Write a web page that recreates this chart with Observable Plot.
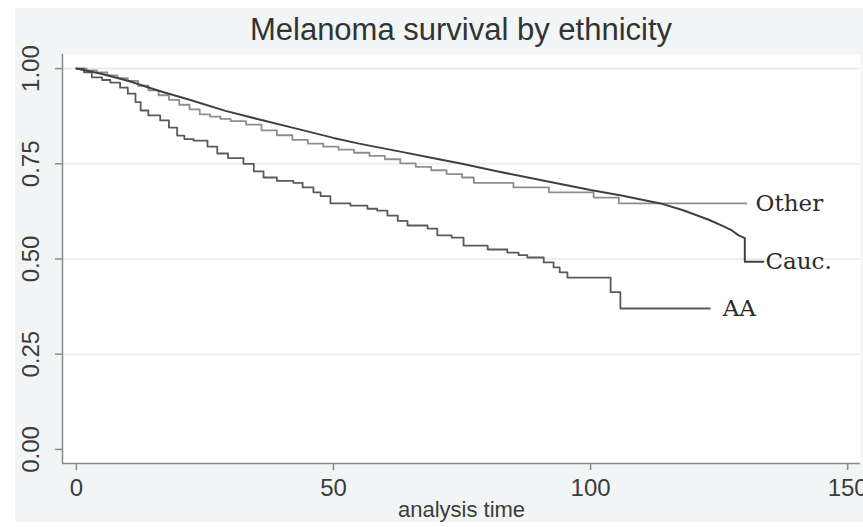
<!DOCTYPE html>
<html>
<head>
<meta charset="utf-8">
<script src="https://cdn.jsdelivr.net/npm/d3@7"></script>
<script src="https://cdn.jsdelivr.net/npm/@observablehq/plot@0.6"></script>
<style>
  html, body { margin: 0; padding: 0; background: #ffffff; }
  #wrap { position: relative; width: 863px; height: 527px; background: #ffffff; overflow: hidden; }
  #panel { position: absolute; left: 15px; top: 8px; width: 848px; height: 514px; background: #f2f5f5; }
  #title { position: absolute; left: 62px; width: 798px; top: 14px; text-align: center;
           font-family: "Liberation Sans", Arial, sans-serif; font-size: 31px; line-height: 31px; color: #333333; }
  #chart { position: absolute; left: 0; top: 50px; }
</style>
</head>
<body>
<div id="wrap">
  <div id="panel"></div>
  <div id="title">Melanoma survival by ethnicity</div>
  <div id="chart"></div>
</div>
<script>
// ---- data ----
const caucTime = [0, 5, 10, 16, 22, 29, 36, 42, 50, 55, 63, 70, 75, 82, 90, 100, 106, 113.6, 118, 123, 126, 127.5, 128.8, 130, 130, 133.6];
const caucSurv = [1.0, 0.986, 0.968, 0.942, 0.918, 0.889, 0.865, 0.845, 0.818, 0.803, 0.782, 0.763, 0.75, 0.73, 0.708, 0.681, 0.667, 0.646, 0.628, 0.603, 0.585, 0.575, 0.562, 0.555, 0.493, 0.493];

const otherTime = [0, 2, 4, 6, 8, 10, 12, 14, 16, 18, 20, 22, 24, 26, 28, 30, 33, 36, 39, 42, 45, 48, 51, 54, 57, 60, 63, 66, 69, 72, 75, 77.3, 85, 91.9, 100.6, 105.5, 130.3];
const otherSurv = [1.0, 0.995, 0.99, 0.982, 0.975, 0.968, 0.955, 0.943, 0.93, 0.918, 0.905, 0.893, 0.88, 0.874, 0.868, 0.862, 0.853, 0.838, 0.825, 0.813, 0.803, 0.795, 0.787, 0.779, 0.771, 0.762, 0.751, 0.742, 0.733, 0.723, 0.714, 0.70, 0.688, 0.675, 0.661, 0.646, 0.646];

const aaTime = [0, 1.5, 3, 5, 6.6, 8.5, 10, 11.5, 12.5, 14, 16.3, 18, 19.6, 21, 22.8, 25.5, 27.4, 29.5, 32.5, 34.5, 36.4, 39, 42.2, 44, 46.1, 47.5, 49.4, 53.3, 56.6, 58.5, 60.5, 62.5, 64.4, 68.3, 70.2, 73, 75.3, 80, 83.8, 86, 87.7, 90.9, 92.8, 94, 95.5, 103.9, 105.8, 123.2];
const aaSurv = [1.0, 0.99, 0.977, 0.97, 0.963, 0.95, 0.934, 0.912, 0.89, 0.877, 0.864, 0.845, 0.824, 0.815, 0.811, 0.795, 0.777, 0.765, 0.75, 0.73, 0.714, 0.705, 0.70, 0.688, 0.675, 0.665, 0.646, 0.64, 0.632, 0.627, 0.614, 0.60, 0.588, 0.58, 0.562, 0.556, 0.535, 0.525, 0.517, 0.51, 0.504, 0.491, 0.478, 0.465, 0.451, 0.413, 0.370, 0.370];

const labelNames = ["Other", "Cauc.", "AA"];
const labelTime = [132.1, 134.0, 125.7];
const labelSurv = [0.646, 0.493, 0.370];

const xTicks = [0, 50, 100, 150];
const yTicks = [0, 0.25, 0.5, 0.75, 1];
const yTickLabels = ["0.00", "0.25", "0.50", "0.75", "1.00"];
const gridTicks = [0.25, 0.5, 0.75, 1];
const xTitle = "analysis time";

// ---- build tables ----
const zip = (g, ts, ss) => ts.map((t, i) => ({group: g, t, s: ss[i]}));
const cauc = zip("Cauc.", caucTime, caucSurv);
const other = zip("Other", otherTime, otherSurv);
const aa = zip("AA", aaTime, aaSurv);
const labels = labelNames.map((n, i) => ({name: n, t: labelTime[i], s: labelSurv[i]}));
const yLab = yTicks.map((v, i) => ({v, text: yTickLabels[i]}));

const xDomain = [-2.7, 152.5];
const yDomain = [-0.037, 1.037];
const sans = "Liberation Sans, Arial, sans-serif";

const chart = Plot.plot({
  width: 863,
  height: 477,
  marginLeft: 62,
  marginRight: 3,
  marginTop: 4,
  marginBottom: 64,
  x: {domain: xDomain, axis: null},
  y: {domain: yDomain, axis: null},
  style: {background: "transparent", overflow: "visible"},
  marks: [
    Plot.frame({fill: "#ffffff", stroke: "none"}),
    Plot.ruleY(gridTicks, {stroke: "#eceff0", strokeWidth: 2}),
    Plot.axisY(yTicks, {tickSize: 7, tickFormat: () => "", label: null, stroke: "#8a8a8a", strokeWidth: 1.5}),
    Plot.axisX(xTicks, {tickSize: 7, tickFormat: () => "", label: null, stroke: "#8a8a8a", strokeWidth: 1.5}),
    Plot.ruleX([xDomain[0]], {stroke: "#8a8a8a", strokeWidth: 1.5}),
    Plot.ruleY([yDomain[0]], {stroke: "#8a8a8a", strokeWidth: 1.5}),
    Plot.text(yLab, {x: xDomain[0], y: "v", text: "text", rotate: -90, dx: -31, fontSize: 24,
      fontFamily: sans, fill: "#3c3c3c"}),
    Plot.text(xTicks, {x: d => d, y: yDomain[0], text: d => String(d), dy: 25, fontSize: 24,
      fontFamily: sans, fill: "#3c3c3c"}),
    Plot.text([xTitle], {frameAnchor: "bottom", text: d => d, dy: 53, fontSize: 22,
      fontFamily: sans, fill: "#3c3c3c"}),
    Plot.line(other, {x: "t", y: "s", curve: "step-after", stroke: "#8e8e8e", strokeWidth: 1.8}),
    Plot.line(aa, {x: "t", y: "s", curve: "step-after", stroke: "#5a5a5a", strokeWidth: 1.8}),
    Plot.line(cauc, {x: "t", y: "s", curve: "linear", stroke: "#404040", strokeWidth: 2}),
    Plot.text(labels, {x: "t", y: "s", text: "name", textAnchor: "start", fontSize: 23,
      fontFamily: "DejaVu Serif, Liberation Serif, serif", fill: "#2a2a2a"})
  ]
});
document.getElementById("chart").appendChild(chart);
</script>
</body>
</html>
